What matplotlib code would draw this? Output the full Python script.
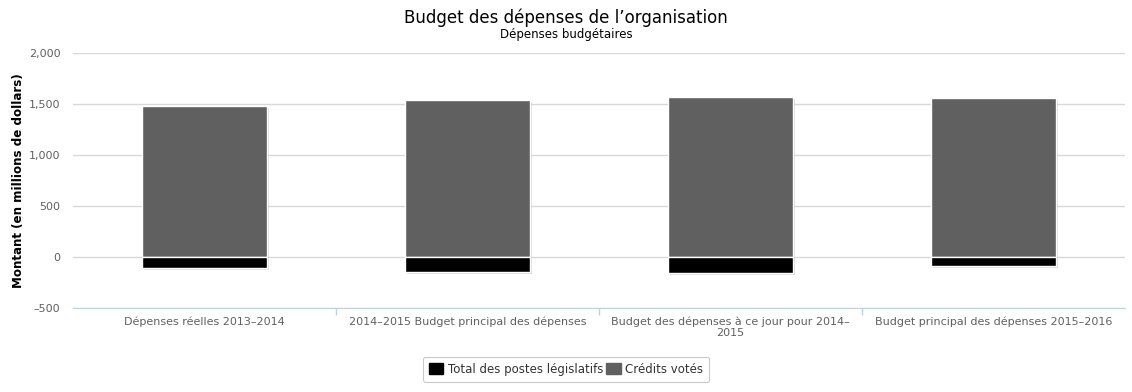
import matplotlib
matplotlib.use("Agg")
import matplotlib.pyplot as plt
import matplotlib.patheffects as pe
from matplotlib.patches import Patch
import numpy as np

categories = ["Dépenses réelles 2013–2014",
              "2014–2015 Budget principal des dépenses",
              "Budget des dépenses à ce jour pour 2014–\n2015",
              "Budget principal des dépenses 2015–2016"]
credits_votes = [1480, 1540, 1570, 1560]
postes_legislatifs = [-108, -147, -157, -90]
yticks = [-500, 0, 500, 1000, 1500, 2000]

fig = plt.figure(figsize=(11.32, 3.92), dpi=100)
ax = fig.add_axes([0.0645, 0.2143, 0.9293, 0.6505])

x = np.arange(len(categories))
shadow = [pe.withSimplePatchShadow(offset=(1.5, -1.5), shadow_rgbFace='#999999', alpha=0.35)]
ax.bar(x, credits_votes, width=0.475, color='#606060', edgecolor='white', linewidth=1,
       path_effects=shadow, zorder=3)
ax.bar(x, postes_legislatifs, width=0.475, color='#000000', edgecolor='white', linewidth=1,
       path_effects=shadow, zorder=3)

ax.set_xlim(-0.5, len(categories) - 0.5)
ax.set_ylim(-500, 2000)
ax.set_yticks(yticks)
ax.set_yticklabels([f"{v:,}".replace("-", "–") for v in yticks], color='#606060', fontsize=8)
ax.yaxis.grid(True, color='#d8d8d8', linewidth=1, zorder=0)
ax.tick_params(axis='y', length=0, pad=9)

ax.set_xticks(x)
ax.set_xticklabels(categories, color='#606060', fontsize=8, linespacing=1.1)
ax.set_xticks(np.arange(len(categories) - 1) + 0.5, minor=True)
ax.tick_params(axis='x', which='major', length=0, pad=6)
ax.tick_params(axis='x', which='minor', length=5, color='#C0D0E0', width=1)

for s in ['top', 'right', 'left']:
    ax.spines[s].set_visible(False)
ax.spines['bottom'].set_color('#C0D0E0')
ax.spines['bottom'].set_zorder(4)

ax.set_ylabel("Montant (en millions de dollars)", fontsize=8.6, fontweight='bold',
              color='#000000')
ax.yaxis.set_label_coords(-0.046, 0.5)

fig.text(0.5, 0.955, "Budget des dépenses de l’organisation", ha='center', va='center',
         fontsize=12, color='#000000')
fig.text(0.5, 0.912, "Dépenses budgétaires", ha='center', va='center', fontsize=8.5,
         color='#000000')

handles = [Patch(facecolor='#000000', edgecolor='#000000'),
           Patch(facecolor='#606060', edgecolor='#606060')]
leg = fig.legend(handles, ["Total des postes législatifs", "Crédits votés"],
                 loc='center', bbox_to_anchor=(0.5, 0.058), ncol=2, fontsize=8.5,
                 frameon=True, fancybox=True, edgecolor='#bbbbbb', handlelength=1.2,
                 handleheight=1.0, handletextpad=0.4, columnspacing=0.3,
                 borderpad=0.5, labelcolor='#333333')
leg.get_frame().set_linewidth(0.8)

fig.savefig("out.png", dpi=100)
